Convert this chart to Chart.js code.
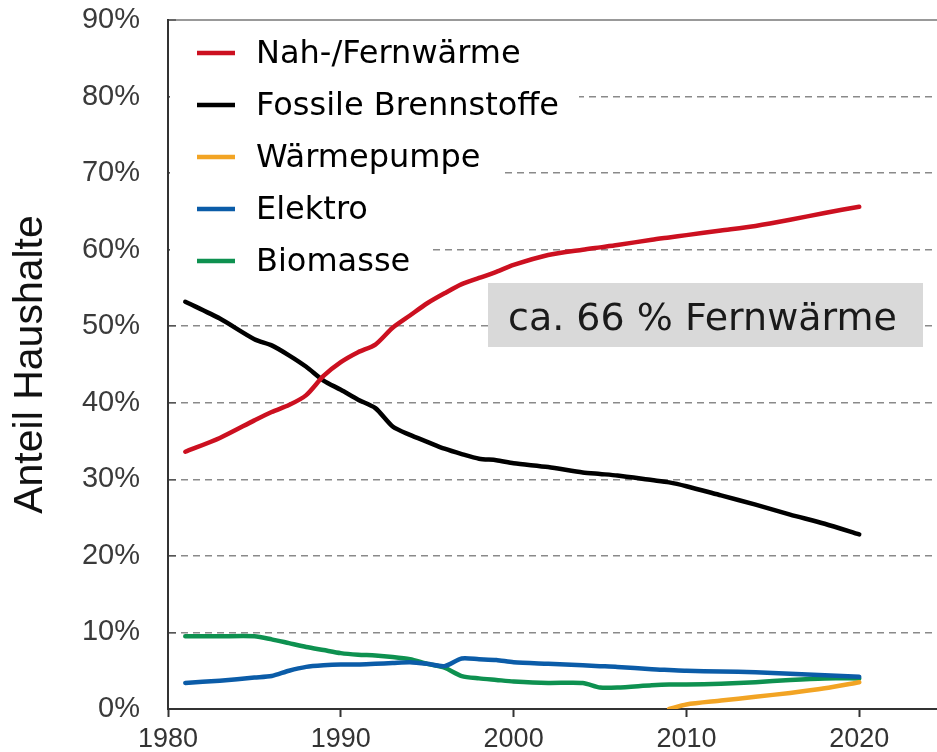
<!DOCTYPE html>
<html>
<head>
<meta charset="utf-8">
<script src="https://cdn.jsdelivr.net/npm/chart.js@4"></script>
<style>
  html, body { margin: 0; padding: 0; background: #fff; overflow: hidden; }
  #wrap { width: 937px; height: 752px; position: relative; }
</style>
</head>
<body>
<div id="wrap"><canvas id="heatChart"></canvas></div>
<script>
// DATA
const years = [1981, 1983, 1985, 1986, 1987, 1988, 1989, 1990, 1991, 1992, 1993, 1994, 1995, 1996, 1997,
               1998, 1999, 2000, 2002, 2004, 2005, 2006, 2008, 2009, 2010, 2012, 2014, 2016, 2018, 2020];
const fernwaerme = [33.6, 35.4, 37.7, 38.8, 39.7, 41.0, 43.5, 45.3, 46.6, 47.6, 49.8, 51.4, 53.0, 54.3, 55.5,
                    56.3, 57.1, 58.0, 59.3, 60.0, 60.3, 60.6, 61.3, 61.6, 61.9, 62.5, 63.1, 63.9, 64.8, 65.6];
const fossil = [53.2, 51.0, 48.3, 47.5, 46.2, 44.7, 42.9, 41.7, 40.4, 39.3, 36.9, 35.8, 34.9, 34.0, 33.3,
                32.7, 32.5, 32.1, 31.6, 30.9, 30.7, 30.5, 29.9, 29.6, 29.1, 27.9, 26.7, 25.4, 24.2, 22.8];
const waermepumpe = [null, null, null, null, null, null, null, null, null, null, null, null, null, null, null,
                     null, null, null, null, null, null, null, null, 0.0, 0.6, 1.1, 1.6, 2.1, 2.7, 3.5];
const elektro = [3.4, 3.7, 4.1, 4.3, 5.0, 5.5, 5.7, 5.8, 5.8, 5.9, 6.0, 6.1, 5.9, 5.6, 6.6,
                 6.5, 6.4, 6.1, 5.9, 5.7, 5.6, 5.5, 5.2, 5.1, 5.0, 4.9, 4.8, 4.6, 4.4, 4.2];
const biomasse = [9.5, 9.5, 9.5, 9.1, 8.6, 8.1, 7.7, 7.3, 7.1, 7.0, 6.8, 6.5, 5.9, 5.4, 4.3,
                  4.0, 3.8, 3.6, 3.4, 3.4, 2.8, 2.8, 3.1, 3.2, 3.2, 3.3, 3.5, 3.8, 4.0, 4.0];
const seriesNames = ['Nah-/Fernwärme', 'Fossile Brennstoffe', 'Wärmepumpe', 'Elektro', 'Biomasse'];
const xTicks = [1980, 1990, 2000, 2010, 2020];
const yTicks = [0, 10, 20, 30, 40, 50, 60, 70, 80, 90];
const noteText = 'ca. 66 % Fernwärme';
const yTitle = 'Anteil Haushalte';

const seriesValues = [fernwaerme, fossil, waermepumpe, elektro, biomasse];
const seriesColors = ['#cc1020', '#000000', '#f2a424', '#0b5ca8', '#0e9150'];

function toPoints(values) {
    return years.map((yr, i) => ({ x: yr, y: values[i] }));
}

// legend drawn as boxes with white background over the grid
const legendBoxes = {
    id: 'legendBoxes',
    beforeDatasetsDraw(chart) {
        const ctx = chart.ctx;
        const area = chart.chartArea;
        ctx.save();
        ctx.font = '32px "DejaVu Sans"';
        ctx.textBaseline = 'middle';
        chart.data.datasets.forEach((ds, i) => {
            const y = area.top + 33 + i * 52;
            const tw = ctx.measureText(ds.label).width;
            ctx.fillStyle = '#ffffff';
            ctx.fillRect(area.left + 2, y - 26, 86 + tw + 20, 52);
            ctx.strokeStyle = ds.borderColor;
            ctx.lineWidth = 4.5;
            ctx.beginPath();
            ctx.moveTo(area.left + 29, y);
            ctx.lineTo(area.left + 67, y);
            ctx.stroke();
            ctx.fillStyle = '#000';
            ctx.fillText(ds.label, area.left + 88, y + 2);
        });
        ctx.restore();
    }
};

// grey note box
const noteBox = {
    id: 'noteBox',
    afterDatasetsDraw(chart) {
        const ctx = chart.ctx;
        const area = chart.chartArea;
        const left = area.left + 320;
        const top = area.top + 263;
        ctx.save();
        ctx.fillStyle = '#d9d9d9';
        ctx.fillRect(left, top, 435, 64);
        ctx.font = '38px "DejaVu Sans"';
        ctx.fillStyle = '#1a1a1a';
        ctx.textBaseline = 'alphabetic';
        ctx.fillText(noteText, left + 20, top + 47);
        ctx.restore();
    }
};

window.addEventListener('load', function () {
    const ctx = document.getElementById('heatChart').getContext('2d');
    new Chart(ctx, {
        type: 'line',
        data: {
            datasets: seriesNames.map((name, i) => ({
                label: name,
                data: toPoints(seriesValues[i]),
                borderColor: seriesColors[i],
                backgroundColor: seriesColors[i],
                borderWidth: 4.5,
                pointRadius: 0,
                tension: 0.25,
                borderCapStyle: 'round',
                borderJoinStyle: 'round',
                spanGaps: false
            }))
        },
        options: {
            responsive: true,
            maintainAspectRatio: false,
            animation: false,
            layout: { padding: { top: 20, right: 0, bottom: 0, left: 0 } },
            plugins: {
                legend: { display: false },
                tooltip: { enabled: false }
            },
            scales: {
                x: {
                    type: 'linear',
                    min: 1980,
                    max: 2024.5,
                    afterBuildTicks: (scale) => { scale.ticks = xTicks.map(v => ({ value: v })); },
                    afterFit: (scale) => {
                        scale.height = 43;
                        scale.paddingLeft = 0;
                        scale.paddingRight = 0;
                    },
                    grid: {
                        drawOnChartArea: false,
                        drawTicks: true,
                        tickLength: 8,
                        tickColor: '#333',
                        tickWidth: 2
                    },
                    border: { color: '#333', width: 2 },
                    ticks: {
                        padding: 6,
                        color: '#333',
                        font: { family: '"Liberation Sans", Arial', size: 27 },
                        callback: (v) => String(v)
                    }
                },
                y: {
                    min: 0,
                    max: 90,
                    afterBuildTicks: (scale) => { scale.ticks = yTicks.map(v => ({ value: v })); },
                    afterFit: (scale) => {
                        scale.width = 168;
                        scale.paddingTop = 0;
                        scale.paddingBottom = 0;
                    },
                    grid: {
                        drawTicks: true,
                        tickLength: -8,
                        tickColor: '#555',
                        tickWidth: 1.5,
                        color: (c) => c.tick && c.tick.value === 0 ? 'rgba(0,0,0,0)' : (c.tick && c.tick.value === 90 ? '#999' : '#8a8a8a'),
                        lineWidth: (c) => c.tick && c.tick.value === 90 ? 2 : 1.5
                    },
                    border: {
                        color: '#333',
                        width: 2,
                        dash: (c) => c.tick && c.tick.value === 90 ? [] : [7, 5]
                    },
                    ticks: {
                        padding: 36,
                        color: '#3a3a3a',
                        font: { family: '"Liberation Sans", Arial', size: 29 },
                        callback: (v) => v + '%'
                    },
                    title: {
                        display: true,
                        text: yTitle,
                        color: '#111',
                        font: { family: '"Liberation Sans", Arial', size: 41 },
                        padding: { top: 6, bottom: 0 }
                    }
                }
            }
        },
        plugins: [legendBoxes, noteBox]
    });
});
</script>
</body>
</html>
